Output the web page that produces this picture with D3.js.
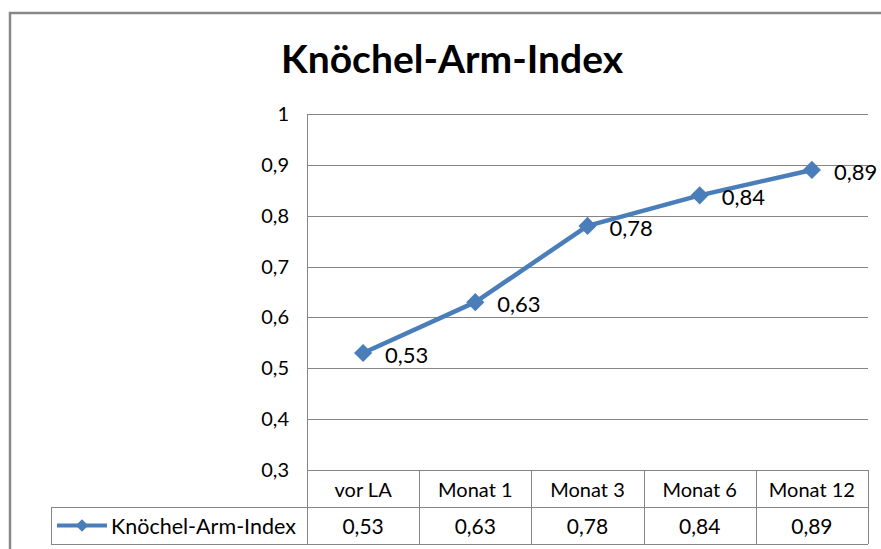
<!DOCTYPE html>
<html>
<head>
<meta charset="utf-8">
<script src="https://cdn.jsdelivr.net/npm/d3@7"></script>
<style>
  body { margin: 0; background: #fff; }
  text { font-family: Lato, "Open Sans", sans-serif; fill: #000; }
</style>
</head>
<body>
<div id="chart"></div>
<script>
var title = "Knöchel-Arm-Index";
var categories = ["vor LA", "Monat 1", "Monat 3", "Monat 6", "Monat 12"];
var values = [0.53, 0.63, 0.78, 0.84, 0.89];
var yTicks = [0.3, 0.4, 0.5, 0.6, 0.7, 0.8, 0.9, 1];
var seriesName = "Knöchel-Arm-Index";

var width = 881, height = 549;
var plot = {left: 307, right: 868, top: 114, bottom: 470};
var rowH = 37;
var blue = "#4a7ebb", grid = "#868686";
var fmt = function(v) { return String(v).replace(".", ","); };

var svg = d3.select("#chart").append("svg")
  .attr("width", width).attr("height", height);

// outer chart border
svg.append("path")
  .attr("d", "M10," + height + "V13H" + width)
  .attr("fill", "none").attr("stroke", "#888").attr("stroke-width", 2.5);

svg.append("text")
  .attr("x", 452).attr("y", 73)
  .attr("text-anchor", "middle")
  .style("font-size", "39px").style("font-weight", "bold")
  .text(title);

var x = d3.scaleBand().domain(categories).range([plot.left, plot.right]);
var y = d3.scaleLinear().domain([0.3, 1]).range([plot.bottom, plot.top]);

// gridlines
svg.append("g").selectAll("line").data(yTicks).enter().append("line")
  .attr("x1", plot.left).attr("x2", plot.right)
  .attr("y1", function(d) { return Math.round(y(d)) + 0.5; })
  .attr("y2", function(d) { return Math.round(y(d)) + 0.5; })
  .attr("stroke", grid);

// y axis labels
svg.append("g").selectAll("text").data(yTicks).enter().append("text")
  .attr("x", 289).attr("y", function(d) { return y(d); })
  .attr("dy", "0.35em").attr("text-anchor", "end")
  .style("font-size", "20px")
  .text(fmt);

// table lines
var tb = svg.append("g").attr("stroke", grid).attr("fill", "none");
tb.append("line").attr("x1", plot.left + 0.5).attr("x2", plot.left + 0.5)
  .attr("y1", plot.top).attr("y2", plot.bottom + 2 * rowH);
tb.append("line").attr("x1", 51).attr("x2", plot.right)
  .attr("y1", plot.bottom + rowH + 0.5).attr("y2", plot.bottom + rowH + 0.5);
tb.append("line").attr("x1", 51).attr("x2", plot.right)
  .attr("y1", plot.bottom + 2 * rowH + 0.5).attr("y2", plot.bottom + 2 * rowH + 0.5);
tb.append("line").attr("x1", 51.5).attr("x2", 51.5)
  .attr("y1", plot.bottom + rowH).attr("y2", plot.bottom + 2 * rowH);
tb.selectAll("line.col").data(categories).enter().append("line")
  .attr("class", "col")
  .attr("x1", function(d) { return Math.round(x(d) + x.bandwidth()) + 0.5; })
  .attr("x2", function(d) { return Math.round(x(d) + x.bandwidth()) + 0.5; })
  .attr("y1", plot.bottom).attr("y2", plot.bottom + 2 * rowH);

// header row
svg.append("g").selectAll("text").data(categories).enter().append("text")
  .attr("x", function(d) { return x(d) + x.bandwidth() / 2; })
  .attr("y", plot.bottom + rowH / 2 + 1).attr("dy", "0.35em")
  .attr("text-anchor", "middle").style("font-size", "20px")
  .text(function(d) { return d; });

// data row
svg.append("g").selectAll("text").data(values).enter().append("text")
  .attr("x", function(d, i) { return x(categories[i]) + x.bandwidth() / 2; })
  .attr("y", plot.bottom + rowH * 1.5 + 1).attr("dy", "0.35em")
  .attr("text-anchor", "middle").style("font-size", "21px")
  .text(fmt);

// legend key in table
var ly = plot.bottom + rowH * 1.5;
svg.append("line").attr("x1", 57).attr("x2", 107).attr("y1", ly).attr("y2", ly)
  .attr("stroke", blue).attr("stroke-width", 4);
svg.append("path").attr("d", d3.symbol(d3.symbolDiamond2, 100)())
  .attr("transform", "translate(82," + ly + ")").attr("fill", blue);
svg.append("text").attr("x", 111).attr("y", ly + 1).attr("dy", "0.35em")
  .style("font-size", "21.5px").text(seriesName);

// series line
var cx = function(d, i) { return x(categories[i]) + x.bandwidth() / 2; };
var line = d3.line().x(cx).y(function(d) { return y(d); });
svg.append("path").datum(values)
  .attr("d", line).attr("fill", "none")
  .attr("stroke", blue).attr("stroke-width", 4.5).attr("stroke-linejoin", "round");

svg.append("g").selectAll("path").data(values).enter().append("path")
  .attr("d", d3.symbol(d3.symbolDiamond2, 210)())
  .attr("transform", function(d, i) { return "translate(" + cx(d, i) + "," + y(d) + ")"; })
  .attr("fill", blue);

svg.append("g").selectAll("text").data(values).enter().append("text")
  .attr("x", function(d, i) { return cx(d, i) + 22; })
  .attr("y", function(d) { return y(d) + 2; }).attr("dy", "0.35em")
  .style("font-size", "22px")
  .text(fmt);
</script>
</body>
</html>
